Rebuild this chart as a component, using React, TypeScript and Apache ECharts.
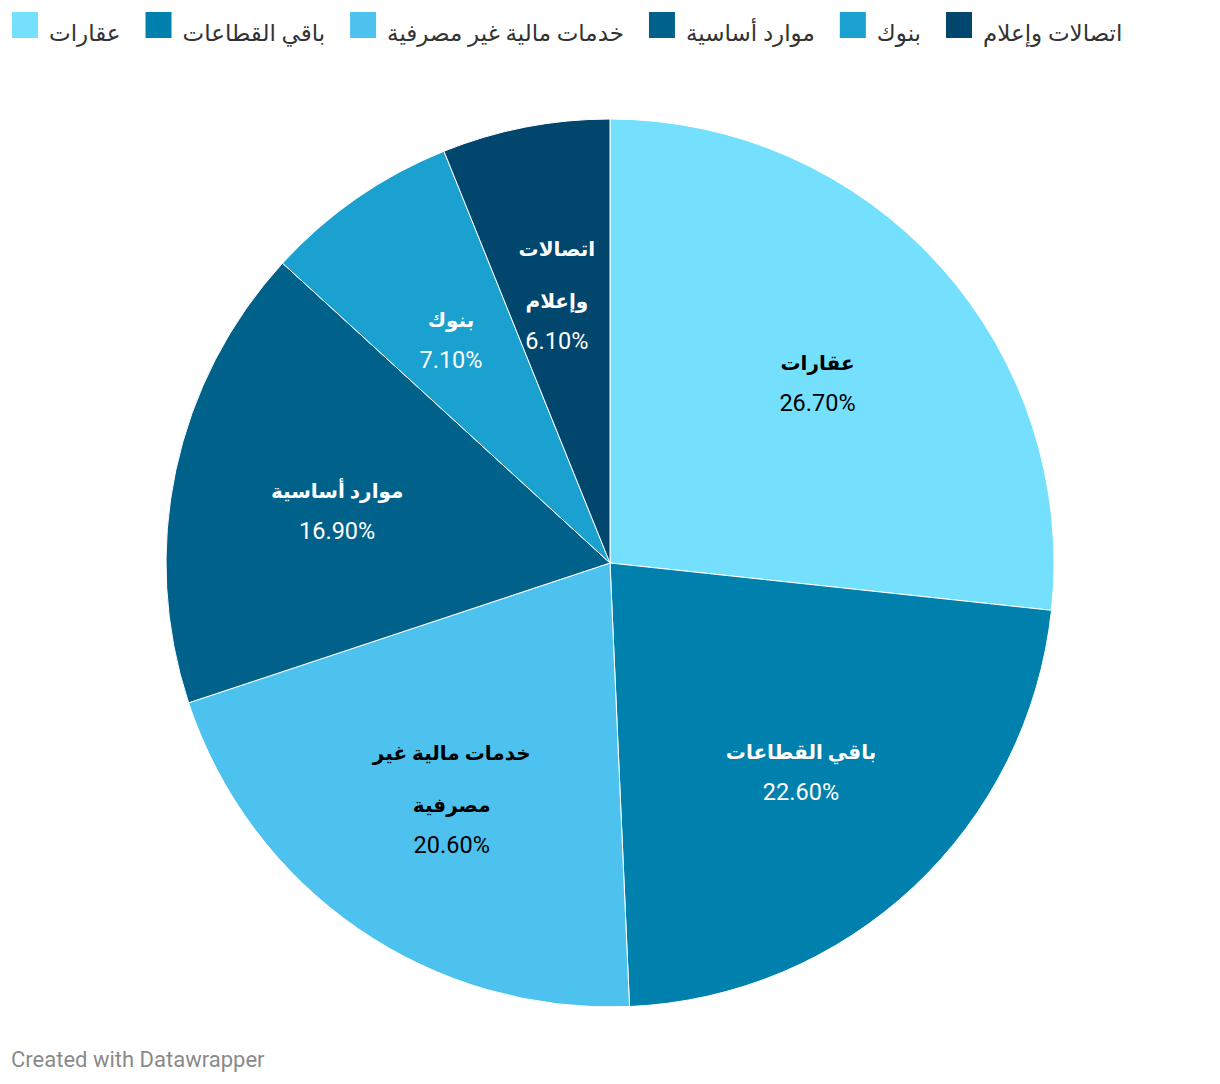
import React, { useEffect, useRef } from "react";
import * as echarts from "echarts";

const categories = ["عقارات", "باقي القطاعات", "خدمات مالية غير مصرفية", "موارد أساسية", "بنوك", "اتصالات وإعلام"];
const shares = [26.7, 22.6, 20.6, 16.9, 7.1, 6.1];
const colors = ["#74E0FE", "#0080AC", "#4EC2EE", "#00628B", "#1AA1CF", "#00466D"];
const labelColors = ["#000000", "#ffffff", "#000000", "#ffffff", "#ffffff", "#ffffff"];

const FONT = "Roboto, 'Noto Sans', 'DejaVu Sans', sans-serif";

function wrapName(name: string): string {
  if (name.length > 13) {
    const i = name.lastIndexOf(" ");
    if (i > 0) return name.slice(0, i) + "\n" + name.slice(i + 1);
  }
  return name;
}

export default function App() {
  const ref = useRef<HTMLDivElement>(null);
  useEffect(() => {
    document.body.style.margin = "0";
    if (!ref.current) return;
    const chart = echarts.init(ref.current, undefined, { renderer: "svg" });
    const data = categories.map((c, i) => ({
      name: c,
      value: shares[i],
      itemStyle: { color: colors[i] },
    }));
    const labelData = categories.map((c, i) => ({
      name: c,
      value: shares[i],
      itemStyle: { color: "rgba(0,0,0,0)", borderWidth: 0 },
      label: {
        rich: {
          n: { fontSize: 20, fontWeight: "bold", color: labelColors[i], lineHeight: 52, fontFamily: FONT },
          p: { fontSize: 23.5, color: labelColors[i], lineHeight: 28, fontFamily: FONT },
        },
      },
    }));
    chart.setOption({
      animation: false,
      backgroundColor: "#ffffff",
      legend: {
        left: 10,
        top: 10,
        padding: 0,
        itemWidth: 28,
        itemHeight: 28,
        itemGap: 23,
        icon: "rect",
        data: categories,
        formatter: "{t|{name}}",
        textStyle: {
          fontSize: 23,
          color: "#333333",
          fontFamily: FONT,
          rich: { t: { fontSize: 23, color: "#333333", fontFamily: FONT, padding: [16, 0, 0, 5] } },
        },
        selectedMode: false,
      },
      graphic: [
        {
          type: "text",
          left: 11,
          top: 1048,
          style: { text: "Created with Datawrapper", fontSize: 22, fill: "#8a8a8a", fontFamily: FONT },
        },
      ],
      series: [
        {
          type: "pie",
          name: "main",
          center: [610, 563],
          radius: [0, 444],
          startAngle: 90,
          clockwise: true,
          label: { show: false },
          labelLine: { show: false },
          itemStyle: { borderColor: "#ffffff", borderWidth: 1 },
          emphasis: { disabled: true },
          data,
        },
        {
          type: "pie",
          name: "labels",
          center: [610, 563],
          radius: [108, 444],
          startAngle: 90,
          clockwise: true,
          silent: true,
          legendHoverLink: false,
          label: {
            show: true,
            position: "inside",
            formatter: (p: any) => `{n|${wrapName(p.name).split("\n").join("}\n{n|")}}\n{p|${p.value.toFixed(2)}%}`,
          },
          labelLine: { show: false },
          emphasis: { disabled: true },
          data: labelData,
        },
      ],
    });
    return () => chart.dispose();
  }, []);
  return <div ref={ref} style={{ width: 1220, height: 1084 }} />;
}
